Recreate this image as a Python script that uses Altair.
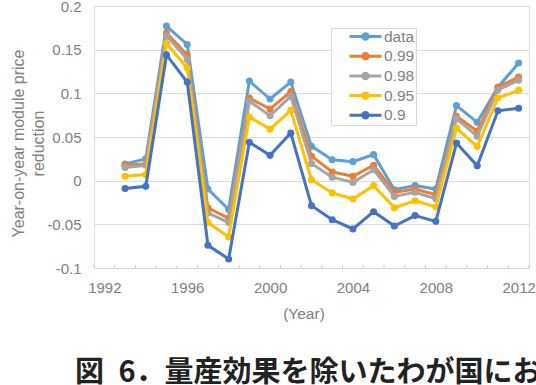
import altair as alt
import pandas as pd

# ---- data ----
years = list(range(1993, 2013))
series_names = ["data", "0.99", "0.98", "0.95", "0.9"]
vals_data = [0.019, 0.025, 0.177, 0.156, -0.0095, -0.033, 0.114, 0.0935, 0.113, 0.0393,
             0.024, 0.0218, 0.0298, -0.0103, -0.0057, -0.0095, 0.0859, 0.0668, 0.107, 0.1347]
vals_099 = [0.0176, 0.019, 0.169, 0.144, -0.031, -0.043, 0.0947, 0.082, 0.102, 0.028,
            0.010, 0.005, 0.0176, -0.0134, -0.0095, -0.016, 0.0737, 0.0565, 0.107, 0.1187]
vals_098 = [0.015, 0.0176, 0.166, 0.139, -0.037, -0.048, 0.091, 0.0744, 0.0966, 0.0195,
            0.004, -0.002, 0.0126, -0.018, -0.0134, -0.0206, 0.071, 0.0508, 0.104, 0.115]
vals_095 = [0.005, 0.007, 0.157, 0.129, -0.048, -0.0645, 0.073, 0.059, 0.0805, 0.001,
            -0.014, -0.021, -0.0057, -0.031, -0.023, -0.030, 0.060, 0.039, 0.0947, 0.1034]
vals_090 = [-0.009, -0.0065, 0.144, 0.113, -0.074, -0.0897, 0.044, 0.029, 0.0546, -0.0286,
            -0.0447, -0.0553, -0.0355, -0.052, -0.040, -0.0466, 0.043, 0.017, 0.080, 0.083]
colors = ["#5BA0D8", "#ED7D31", "#A5A5A5", "#FFC000", "#4472C4"]
x_labels = [1992, 1996, 2000, 2004, 2008, 2012]
y_ticks = [-0.1, -0.05, 0, 0.05, 0.1, 0.15, 0.2]
y_title = ["Year-on-year module price", "reduction"]
x_title = "(Year)"
caption = "図\u20026．量産効果を除いたわが国における"

all_vals = [vals_data, vals_099, vals_098, vals_095, vals_090]
rows = []
for name, vals in zip(series_names, all_vals):
    for yr, v in zip(years, vals):
        rows.append({"year": yr, "value": v, "series": name})
df = pd.DataFrame(rows)

# category boundaries (1992 .. 2012 categories)
cats = list(range(years[0] - 1, years[-1] + 1))
bounds = pd.DataFrame({"b": [c - 0.5 for c in cats] + [cats[-1] + 0.5]})

W, H = 435, 262
GRAY = "#808080"
FONT = "Liberation Sans"

x_scale = alt.Scale(domain=[cats[0] - 0.5, cats[-1] + 0.5], nice=False, zero=False)
y_scale = alt.Scale(domain=[-0.1, 0.2], nice=False, zero=False)
color_scale = alt.Scale(domain=series_names, range=colors)

x_axis = alt.Axis(values=x_labels, format="d", grid=False, ticks=False, tickSize=0,
                  labelPadding=12, labelFontSize=15, labelColor=GRAY, labelFont=FONT,
                  domain=True, domainColor="#d9d9d9",
                  title=x_title, titleFontSize=15.5, titleColor=GRAY, titleFont=FONT,
                  titleFontWeight="normal", titleX=209.5, titleY=50,
                  titleBaseline="alphabetic", titleAlign="center")
y_axis = alt.Axis(values=y_ticks, labelExpr="'' + datum.value", grid=True,
                  gridColor="#d9d9d9", gridWidth=1, ticks=False, tickSize=0, domain=False,
                  labelPadding=13, labelFontSize=15, labelColor=GRAY, labelFont=FONT,
                  title=y_title, titleFontSize=16, titleColor=GRAY, titleFont=FONT,
                  titleFontWeight="normal", titleAngle=270, titleX=-70.5, titleY=137,
                  titleAlign="center", titleBaseline="alphabetic", titleLineHeight=19.5)

symbol_path = "M-1,0L1,0M-0.17,0A0.17,0.17 0 1,1 0.17,0A0.17,0.17 0 1,1 -0.17,0Z"
legend = alt.Legend(title=None, orient="none", legendX=237, legendY=22, direction="vertical",
                    fillColor="white", strokeColor="#d9d9d9", padding=1,
                    symbolType=symbol_path, symbolSize=1024, symbolStrokeWidth=3,
                    symbolOffset=16, clipHeight=15, rowPadding=3.7,
                    labelFontSize=15.5, labelColor=GRAY, labelFont=FONT, labelOffset=1,
                    labelExpr="datum.label + '\u00a0\u00a0\u00a0\u00a0'")

x_enc = alt.X("year:Q", scale=x_scale, axis=x_axis)
y_enc = alt.Y("value:Q", scale=y_scale, axis=y_axis)
c_enc = alt.Color("series:N", scale=color_scale, legend=legend)

layers = []
for name in series_names:
    base = alt.Chart(df).transform_filter(alt.datum.series == name)
    layers.append(base.mark_line(strokeWidth=3).encode(x=x_enc, y=y_enc, color=c_enc))
    layers.append(base.mark_circle(size=50, opacity=1).encode(x=x_enc, y=y_enc, color=c_enc))

ticks = alt.Chart(bounds).mark_rule(color="#c8c8c8", strokeWidth=1).encode(
    x=alt.X("b:Q", scale=x_scale), y=alt.value(H - 3), y2=alt.value(H))

cap = alt.Chart(pd.DataFrame({"t": [caption]})).mark_text(
    align="left", baseline="alphabetic", font="Noto Sans CJK JP", fontSize=29,
    fontWeight="bold", color="#222222").encode(
    x=alt.value(-19), y=alt.value(376), text="t:N")

chart = alt.layer(ticks, *layers, cap).properties(
    width=W, height=H,
    autosize=alt.AutoSizeParams(type="none"),
    padding={"left": 94, "top": 6, "right": 7, "bottom": 117},
).configure_view(stroke="#d9d9d9", strokeWidth=1).configure(background="white")

chart.save("out.html", embed_options={"renderer": "svg", "actions": False})
